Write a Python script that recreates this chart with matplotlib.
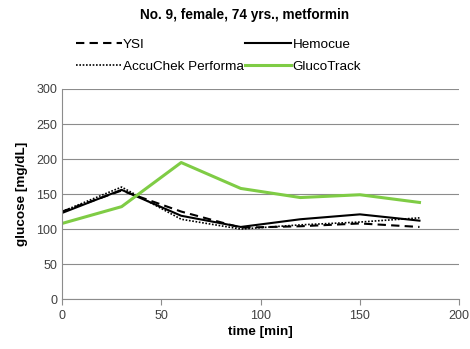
import matplotlib
matplotlib.use('Agg')
import matplotlib.pyplot as plt

plt.rcParams['font.family'] = ['Liberation Sans', 'DejaVu Sans']

time = [0, 30, 60, 90, 120, 150, 180]
ysi = [125, 155, 125, 102, 104, 108, 103]
hemocue = [123, 156, 119, 103, 114, 121, 112]
accuchek = [125, 160, 114, 100, 106, 110, 116]
glucotrack = [108, 132, 195, 158, 145, 149, 138]

fig = plt.figure(figsize=(4.7, 3.49), dpi=100)
ax = fig.add_axes([0.132, 0.143, 0.845, 0.602])

ax.plot(time, ysi, color='black', ls=(0, (4, 2.5)), lw=1.5, label='YSI')
ax.plot(time, hemocue, color='black', ls='-', lw=1.5, label='Hemocue')
ax.plot(time, accuchek, color='black', ls=(0, (1, 1)), lw=1.2, label='AccuChek Performa')
ax.plot(time, glucotrack, color='#7fcc45', ls='-', lw=2.2, label='GlucoTrack')

ax.set_xlim(0, 200)
ax.set_ylim(0, 300)
ax.set_xticks(range(0, 201, 50))
ax.set_yticks(range(0, 301, 50))
ax.yaxis.grid(True, color='#8c8c8c', lw=0.8)
ax.set_axisbelow(True)
for s in ['top', 'right']:
    ax.spines[s].set_visible(False)
for s in ['left', 'bottom']:
    ax.spines[s].set_color('#8c8c8c')
ax.tick_params(axis='both', colors='#8c8c8c', labelcolor='#404040', labelsize=9, length=4, direction='out')
ax.tick_params(axis='y', length=0)

ax.set_xlabel('time [min]', fontsize=9.7, fontweight='bold', labelpad=3)
ax.set_ylabel('glucose [mg/dL]', fontsize=9.7, fontweight='bold', labelpad=6)

fig.text(0.52, 0.958, 'No. 9, female, 74 yrs., metformin', ha='center', va='center',
         fontsize=9.8, fontweight='bold')

# order legend entries so the 2 columns read YSI/Hemocue, AccuChek/GlucoTrack
h, l = ax.get_legend_handles_labels()
order = [0, 2, 1, 3]
fig.legend([h[i] for i in order], [l[i] for i in order], ncol=2, frameon=False,
           loc='center', bbox_to_anchor=(0.465, 0.84), fontsize=9.7,
           handlelength=3.4, handletextpad=0.1, columnspacing=0.1, labelspacing=0.7)

fig.savefig('out.png', dpi=100)
